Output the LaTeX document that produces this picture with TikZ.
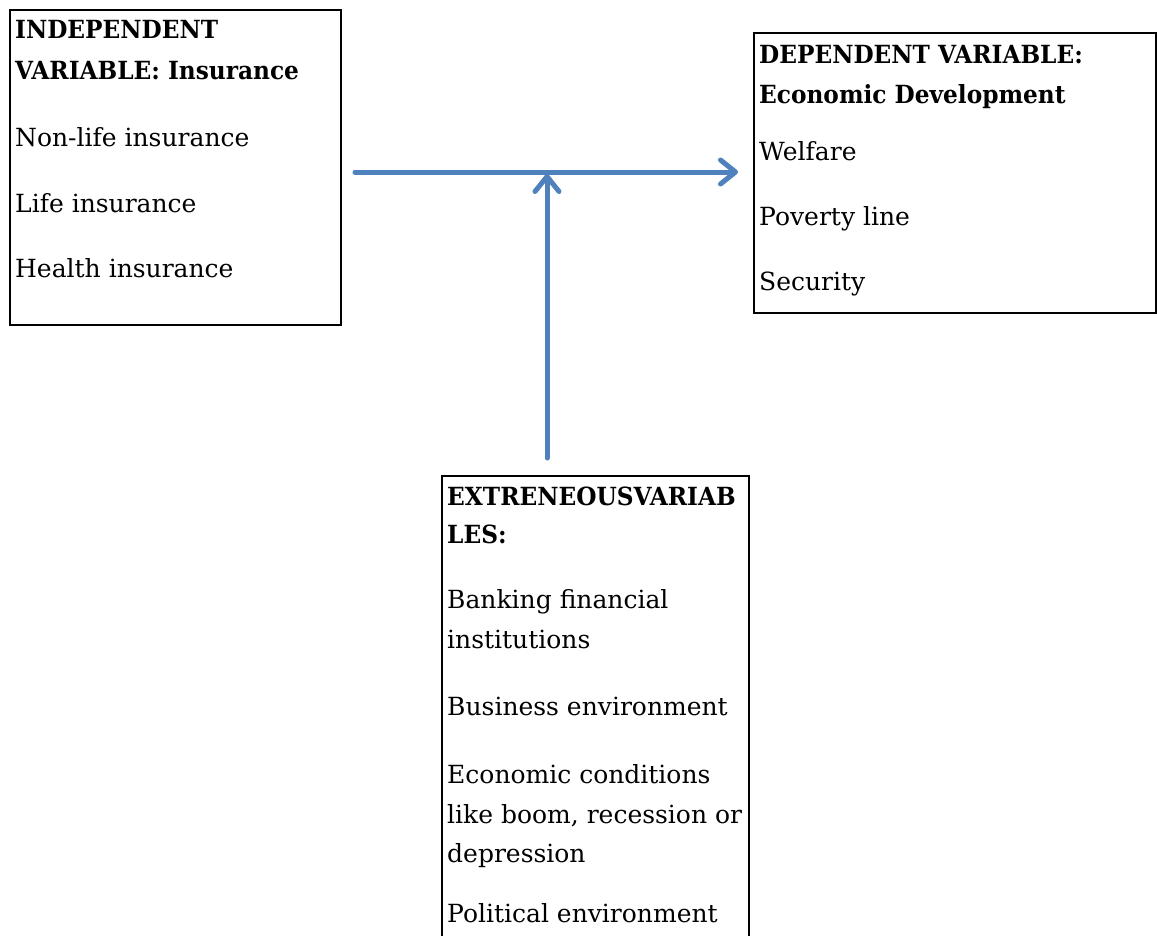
\documentclass[tikz,border=0pt]{standalone}
\usepackage{fontspec}
\setmainfont{DejaVu Serif}[BoldFeatures={FakeStretch=0.93}]
\usetikzlibrary{arrows.meta}
\definecolor{arrowblue}{HTML}{4F81BD}
\begin{document}
\begin{tikzpicture}[x=1pt,y=-1pt,
  txt/.style={anchor=base west, inner sep=0pt, font=\fontsize{25}{30}\selectfont},
  hd/.style={anchor=base west, inner sep=0pt, font=\fontsize{25}{30}\selectfont\bfseries},
  frame/.style={draw=black, line width=2.5pt, anchor=north west, inner sep=0pt, outer sep=0pt},
  conn/.style={draw=arrowblue, line width=5pt, line cap=round,
    -{Straight Barb[length=15pt,width=24pt,line cap=round,line join=round]}}]
\useasboundingbox (0,0) rectangle (1157,935);
% boxes
\node[frame, minimum width=331pt, minimum height=315pt] (indep) at (10,10) {};
\node[frame, minimum width=402pt, minimum height=280pt] (dep) at (754,33) {};
\node[frame, minimum width=307pt, minimum height=520pt] (extr) at (442,476) {};
% left box text
\node[hd]  (i1) at (15,38)  {INDEPENDENT};
\node[hd]  (i2) at (15,79)  {VARIABLE: Insurance};
\node[txt] (i3) at (15,146) {Non-life insurance};
\node[txt] (i4) at (15,212) {Life insurance};
\node[txt] (i5) at (15,277) {Health insurance};
% right box text
\node[hd]  (d1) at (759,63)  {DEPENDENT VARIABLE:};
\node[hd]  (d2) at (759,103) {Economic Development};
\node[txt] (d3) at (759,160) {Welfare};
\node[txt] (d4) at (759,225) {Poverty line};
\node[txt] (d5) at (759,290) {Security};
% bottom box text
\node[hd]  (e1) at (447,505) {EXTRENEOUSVARIAB};
\node[hd]  (e2) at (447,543) {LES:};
\node[txt] (e3) at (447,608) {Banking financial};
\node[txt] (e4) at (447,648) {institutions};
\node[txt] (e5) at (447,715) {Business environment};
\node[txt] (e6) at (447,783) {Economic conditions};
\node[txt] (e7) at (447,823) {like boom, recession or};
\node[txt] (e8) at (447,862) {depression};
\node[txt] (e9) at (447,922) {Political environment};
% connectors
\coordinate (hstart) at (355,172);
\coordinate (hend) at (738,172);
\coordinate (vstart) at (547,458);
\coordinate (vend) at (547,174);
\draw[conn] (hstart) -- (hend);
\draw[conn] (vstart) -- (vend);
\end{tikzpicture}
\end{document}
